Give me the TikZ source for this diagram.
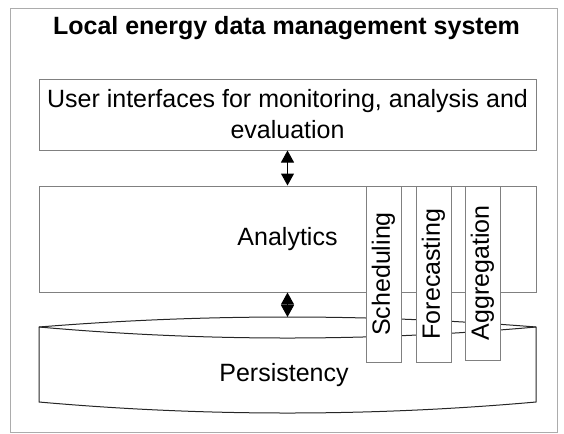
\documentclass[tikz,border=0pt]{standalone}
\usepackage{fontspec}
\setmainfont{Liberation Sans}
\usetikzlibrary{arrows.meta}
\begin{document}
\begin{tikzpicture}[x=0.75pt,y=-0.75pt,
  every node/.style={font=\fontsize{18.75}{23.25}\selectfont, inner sep=0pt, align=center},
  outerframe/.style={draw=gray!65, line width=0.75pt},
  layerbox/.style={draw=gray, line width=0.75pt, fill=white, minimum width=372.75pt},
  modulebox/.style={draw=gray, line width=0.75pt, fill=white, rotate=90, minimum height=26.25pt},
  store/.style={draw=black!85, line width=0.75pt},
  biarrow/.style={{Triangle[length=9pt,width=9.75pt]}-{Triangle[length=9pt,width=9.75pt]}, line width=0.75pt, black}
]
\useasboundingbox (0,0) rectangle (564,433);

% system boundary
\draw[outerframe] (10.7,8) rectangle (557,432);
\node[font=\fontsize{18.75}{23.25}\selectfont\bfseries] (title) at (286.5,28.5) {Local energy data management system};

% layers
\node[layerbox, minimum height=53.25pt] (ui) at (287.5,114.5)
  {User interfaces for monitoring, analysis and\\evaluation};
\node[layerbox, minimum height=79.5pt] (ana) at (287.5,239) {Analytics};

% persistence store drawn as a flat drum
\draw[store] (39,327) -- (39,402)
  .. controls (204.67,416.67) and (370.33,416.67) .. (536,402)
  -- (536,327)
  .. controls (370.33,313.67) and (204.67,313.67) .. cycle;
\draw[store] (39,327) .. controls (204.67,341.67) and (370.33,341.67) .. (536,327);
\coordinate (storetop) at (287.5,317);
\node (pers) at (284,375.5) {Persistency};

% analytic modules reaching down into the store
\node[modulebox, minimum width=132pt] (sched) at (383.5,274) {Scheduling};
\node[modulebox, minimum width=132pt] (fore) at (433.5,274) {Forecasting};
\node[modulebox, minimum width=130.5pt] (aggr) at (482.5,273) {Aggregation};

% data flows between layers
\draw[biarrow] (ui.south) -- (ana.north);
\draw[biarrow] (ana.south) -- (storetop);
\end{tikzpicture}
\end{document}
